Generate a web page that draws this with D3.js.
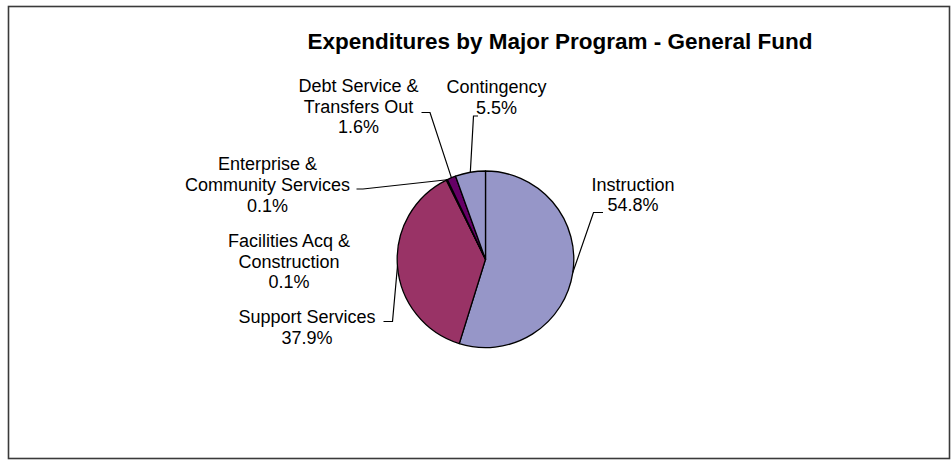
<!DOCTYPE html>
<html>
<head>
<meta charset="utf-8">
<script src="https://cdn.jsdelivr.net/npm/d3@7"></script>
<style>
  html, body { margin: 0; padding: 0; background: #fff; }
  svg { display: block; }
  text { font-family: "Liberation Sans", Arial, sans-serif; fill: #000; }
</style>
</head>
<body>
<svg id="chart" width="951" height="461"></svg>
<script>
// General Fund expenditures by major program (percent of total)
const categories = [
  "Instruction",
  "Support Services",
  "Facilities Acq & Construction",
  "Enterprise & Community Services",
  "Debt Service & Transfers Out",
  "Contingency"
];
const shares = [54.8, 37.9, 0.1, 0.1, 1.6, 5.5];
const labelLines = [
  ["Instruction"],
  ["Support Services"],
  ["Facilities Acq &", "Construction"],
  ["Enterprise &", "Community Services"],
  ["Debt Service &", "Transfers Out"],
  ["Contingency"]
];
const sliceColors = ["#9696c8", "#993366", "#ffffcc", "#ccffff", "#660066", "#9696c8"];

// label placement: block centre x, first baseline y, leader elbow and tick end (null = no leader)
const labelLayout = [
  { x: 633, y: 190.5, elbow: [593.5, 212.5], tick: [603, 212.5] },
  { x: 307, y: 322.7, elbow: [392.5, 321.5], tick: [383.5, 321.5] },
  { x: 289, y: 246.7, elbow: null, tick: null },
  { x: 267.5, y: 170, elbow: [363, 189], tick: [356.5, 189] },
  { x: 358.5, y: 91.7, elbow: [430, 112.5], tick: [421.5, 112.5] },
  { x: 496.5, y: 93.3, elbow: [473.5, 116], tick: [478, 116] }
];

const svg = d3.select("#chart");
const W = 951, H = 461;

// chart frame
svg.append("rect")
  .attr("x", 8.5).attr("y", 6.5)
  .attr("width", 941).attr("height", 452)
  .attr("fill", "#fff")
  .attr("stroke", "#3a3a3a")
  .attr("stroke-width", 1.6);

// title
svg.append("text")
  .attr("x", 560).attr("y", 49)
  .attr("text-anchor", "middle")
  .style("font-size", "22.5px")
  .style("font-weight", "bold")
  .text("Expenditures by Major Program - General Fund");

const cx = 485.5, cy = 259.3, r = 88.3;
const g = svg.append("g").attr("transform", `translate(${cx},${cy})`);

const pie = d3.pie().sort(null).value(d => d);
const arcs = pie(shares);
const arc = d3.arc().innerRadius(0).outerRadius(r);
const edge = d3.arc().innerRadius(r).outerRadius(r);

g.selectAll("path.slice")
  .data(arcs)
  .join("path")
  .attr("class", "slice")
  .attr("d", arc)
  .attr("fill", (d, i) => sliceColors[i])
  .attr("stroke", "#000")
  .attr("stroke-width", 1.3)
  .attr("stroke-linejoin", "round");

// leader lines from slice edge to label
const fmt = d3.format(".1f");
arcs.forEach((a, i) => {
  const L = labelLayout[i];
  if (L.elbow) {
    const p = edge.centroid(a);
    const pts = [[p[0] + cx, p[1] + cy], L.elbow, L.tick];
    svg.append("path")
      .attr("d", d3.line()(pts))
      .attr("fill", "none")
      .attr("stroke", "#000")
      .attr("stroke-width", 1.2);
  }
  const lines = labelLines[i].concat([fmt(shares[i]) + "%"]);
  const t = svg.append("text")
    .attr("text-anchor", "middle")
    .style("font-size", "18px");
  lines.forEach((s, k) => {
    t.append("tspan")
      .attr("x", L.x)
      .attr("y", L.y + k * 20.8)
      .text(s);
  });
});
</script>
</body>
</html>
